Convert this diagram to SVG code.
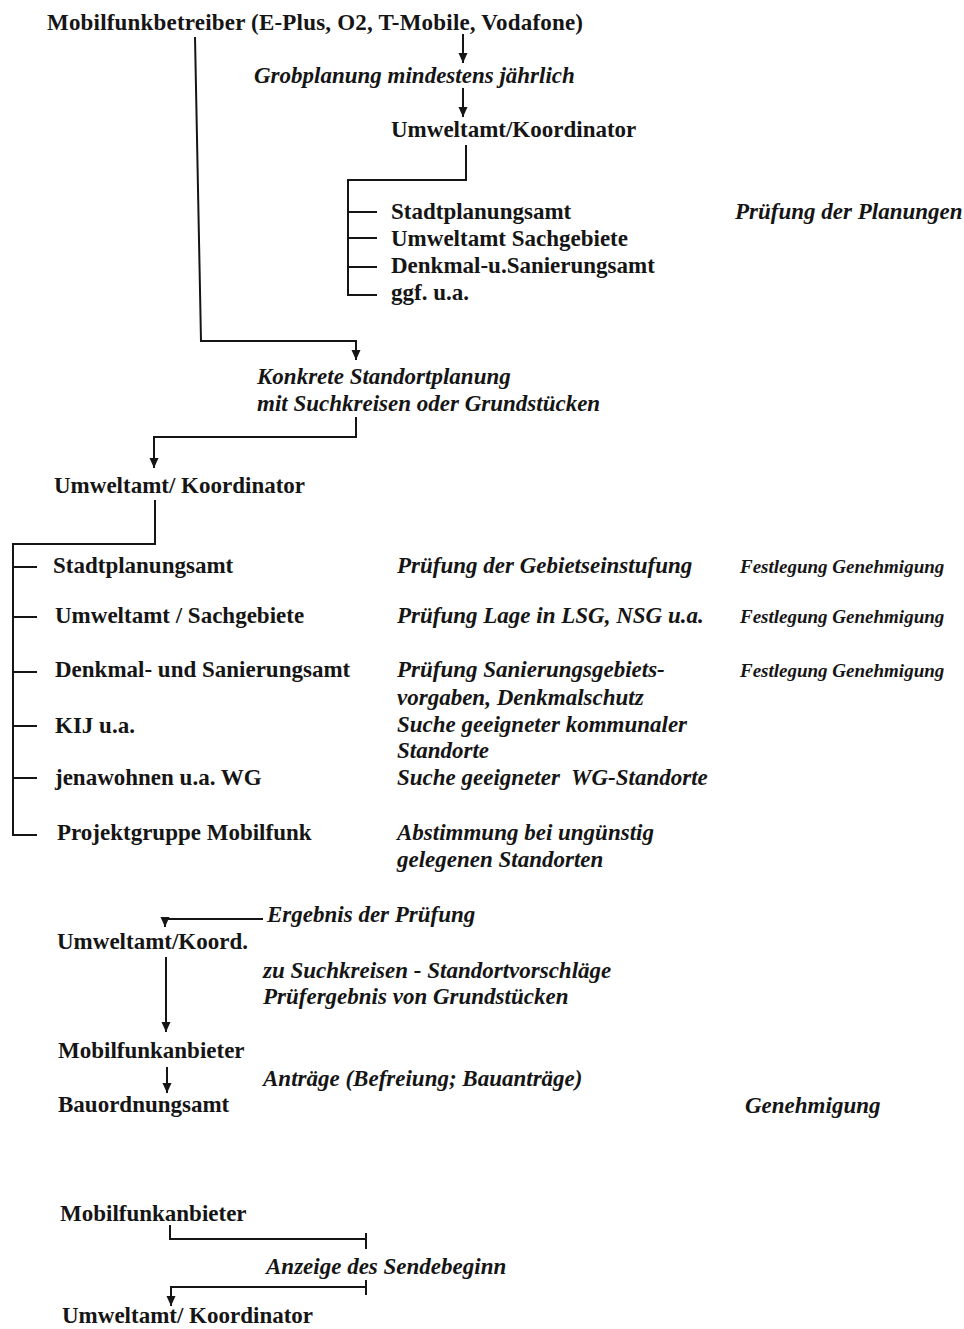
<svg xmlns="http://www.w3.org/2000/svg" width="964" height="1329" viewBox="0 0 964 1329">
<style>
text{font-family:"Liberation Serif","Times New Roman",serif;fill:#151515;font-weight:bold}
.b{font-size:23px}
.i{font-size:23px;font-style:italic}
.s{font-size:19px;font-style:italic}
.c path{fill:none;stroke:#151515;stroke-width:2}
</style>
<defs>
<marker id="ah" markerUnits="userSpaceOnUse" markerWidth="10" markerHeight="12" refX="10" refY="4.5" orient="auto">
<path d="M0,0 L10,4.5 L0,9 z" fill="#151515"/>
</marker>
</defs>
<rect width="964" height="1329" fill="#fff"/>
<g class="c" id="connectors">
<path d="M463,34 V63" marker-end="url(#ah)"/>
<path d="M463,88 V117" marker-end="url(#ah)"/>
<path d="M466,145 V180 H348 V295 H377 M348,212 H377 M348,238 H377 M348,267 H377"/>
<path d="M195,37 L201,341 H356 V360" marker-end="url(#ah)"/>
<path d="M356,417 V437 H154 V468" marker-end="url(#ah)"/>
<path d="M155,500 V544 H13 V835 H37 M13,567 H37 M13,617 H37 M13,672 H37 M13,726 H37 M13,778 H37"/>
<path d="M263,919 H165 V927" marker-end="url(#ah)"/>
<path d="M166,957 V1032" marker-end="url(#ah)"/>
<path d="M167,1067 V1093" marker-end="url(#ah)"/>
<path d="M170,1225 V1239 H366 M366,1233 V1249"/>
<path d="M366,1280 V1295 M366,1287 H171 V1306" marker-end="url(#ah)"/>
</g>
<g id="n-betreiber"><text class="b" x="47" y="30" textLength="536">Mobilfunkbetreiber (E-Plus, O2, T-Mobile, Vodafone)</text></g>
<g id="n-grob"><text class="i" x="254" y="83">Grobplanung mindestens jährlich</text></g>
<g id="n-umwelt1"><text class="b" x="391" y="137">Umweltamt/Koordinator</text></g>
<g id="n-list1">
<text class="b" x="391" y="219">Stadtplanungsamt</text>
<text class="b" x="391" y="246">Umweltamt Sachgebiete</text>
<text class="b" x="391" y="273">Denkmal-u.Sanierungsamt</text>
<text class="b" x="391" y="300">ggf. u.a.</text>
</g>
<g id="n-pruef1"><text class="i" x="735" y="219">Prüfung der Planungen</text></g>
<g id="n-konkret"><text class="i" x="257" y="384">Konkrete Standortplanung</text><text class="i" x="257" y="411">mit Suchkreisen oder Grundstücken</text></g>
<g id="n-umwelt2"><text class="b" x="54" y="493">Umweltamt/ Koordinator</text></g>
<g id="n-list2">
<text class="b" x="53" y="573">Stadtplanungsamt</text>
<text class="b" x="55" y="623">Umweltamt / Sachgebiete</text>
<text class="b" x="55" y="677">Denkmal- und Sanierungsamt</text>
<text class="b" x="55" y="733">KIJ u.a.</text>
<text class="b" x="55" y="785">jenawohnen u.a. WG</text>
<text class="b" x="57" y="840">Projektgruppe Mobilfunk</text>
</g>
<g id="n-aufgaben">
<text class="i" x="397" y="573">Prüfung der Gebietseinstufung</text>
<text class="i" x="397" y="623">Prüfung Lage in LSG, NSG u.a.</text>
<text class="i" x="397" y="677">Prüfung Sanierungsgebiets-</text>
<text class="i" x="397" y="705">vorgaben, Denkmalschutz</text>
<text class="i" x="397" y="732">Suche geeigneter kommunaler</text>
<text class="i" x="397" y="758">Standorte</text>
<text class="i" x="397" y="785" xml:space="preserve">Suche geeigneter  WG-Standorte</text>
<text class="i" x="397" y="840">Abstimmung bei ungünstig</text>
<text class="i" x="397" y="867">gelegenen Standorten</text>
</g>
<g id="n-festlegung">
<text class="s" x="740" y="573">Festlegung Genehmigung</text>
<text class="s" x="740" y="623">Festlegung Genehmigung</text>
<text class="s" x="740" y="677">Festlegung Genehmigung</text>
</g>
<g id="n-ergebnis"><text class="i" x="267" y="922">Ergebnis der Prüfung</text></g>
<g id="n-umwelt3"><text class="b" x="57" y="949">Umweltamt/Koord.</text></g>
<g id="n-vorschlaege"><text class="i" x="263" y="978">zu Suchkreisen - Standortvorschläge</text><text class="i" x="263" y="1004">Prüfergebnis von Grundstücken</text></g>
<g id="n-anbieter1"><text class="b" x="58" y="1058">Mobilfunkanbieter</text></g>
<g id="n-antraege"><text class="i" x="263" y="1086">Anträge (Befreiung; Bauanträge)</text></g>
<g id="n-bauordnung"><text class="b" x="58" y="1112">Bauordnungsamt</text></g>
<g id="n-genehmigung"><text class="i" x="745" y="1113">Genehmigung</text></g>
<g id="n-anbieter2"><text class="b" x="60" y="1221">Mobilfunkanbieter</text></g>
<g id="n-anzeige"><text class="i" x="266" y="1274">Anzeige des Sendebeginn</text></g>
<g id="n-umwelt4"><text class="b" x="62" y="1323">Umweltamt/ Koordinator</text></g>
</svg>
